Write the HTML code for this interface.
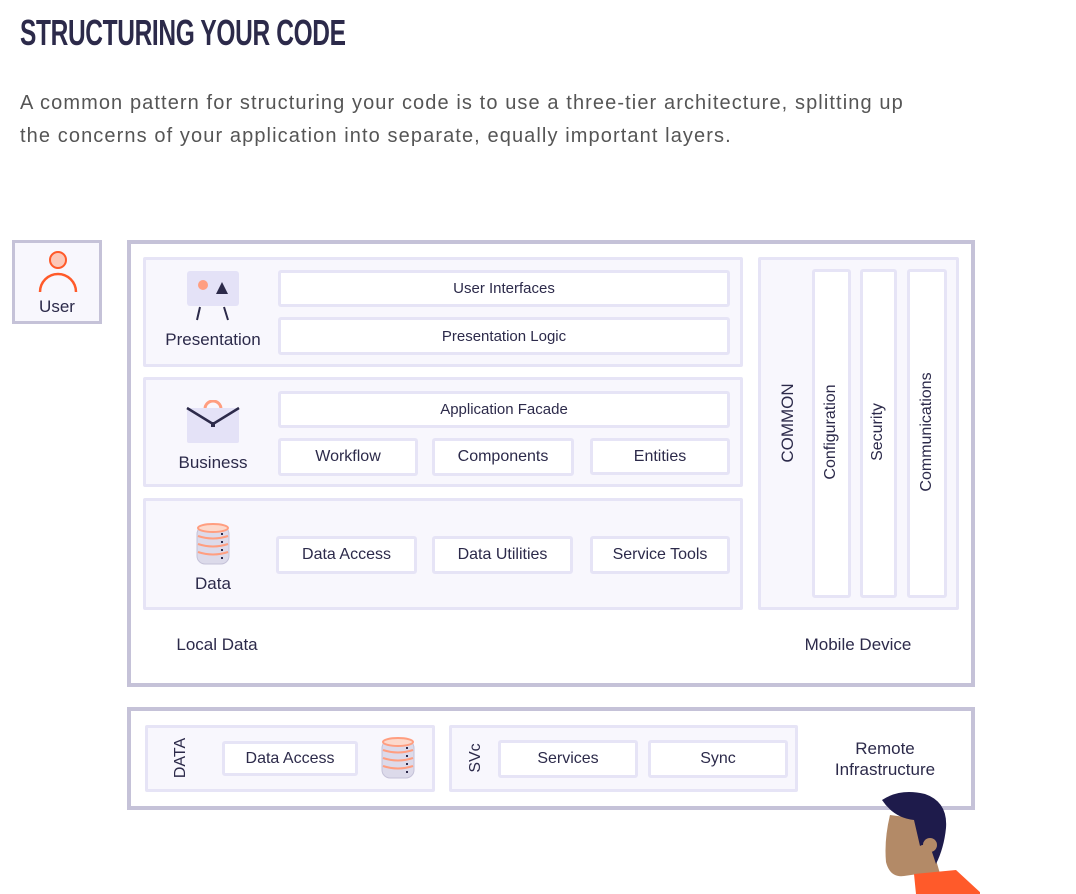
<!DOCTYPE html>
<html><head><meta charset="utf-8"><style>
*{box-sizing:border-box;margin:0;padding:0}
body{width:1076px;height:894px;background:#fff;position:relative;overflow:hidden;font-family:"Liberation Sans",sans-serif;color:#2c2a4a}
.a{position:absolute}
.panel{position:absolute;background:#f8f7fd;border:3px solid #e6e4f6;border-radius:2px}
.box{position:absolute;background:#fff;border:3px solid #e6e4f6;border-radius:3px;display:flex;align-items:center;justify-content:center;font-size:16px;color:#2c2a4a}
.lbl{position:absolute;font-size:17px;text-align:center;color:#2c2a4a}
.v{position:absolute;transform:rotate(-90deg);transform-origin:center;white-space:nowrap;font-size:16px;text-align:center}
</style></head><body>
<div class="a" style="left:20px;top:12px;font-family:'Liberation Sans Narrow','Liberation Sans',sans-serif;font-weight:bold;font-size:36px;letter-spacing:-0.5px;transform:scaleX(0.68);transform-origin:left;color:#2c2a4a;white-space:nowrap">STRUCTURING YOUR CODE</div>
<div class="a" style="left:20px;top:87px;font-size:20px;line-height:33px;color:#555;letter-spacing:1.1px;white-space:nowrap">A common pattern for structuring your code is to use a three-tier architecture, splitting up<br>the concerns of your application into separate, equally important layers.</div>

<div class="a" style="left:12px;top:240px;width:90px;height:84px;border:3px solid #c5c2d8;background:#f8f7fd"></div>
<svg class="a" style="left:36px;top:248px" width="44" height="46"><circle cx="22" cy="12" r="8" fill="#fcc8b8" stroke="#ff5a2a" stroke-width="2"/><path d="M4 44 A18 18 0 0 1 40 44" fill="none" stroke="#ff5a2a" stroke-width="2.5"/></svg>
<div class="lbl" style="left:12px;top:297px;width:90px">User</div>

<div class="a" style="left:127px;top:240px;width:848px;height:447px;border:4px solid #c5c2d8"></div>

<div class="panel" style="left:143px;top:257px;width:600px;height:110px"></div>
<div class="panel" style="left:143px;top:377px;width:600px;height:110px"></div>
<div class="panel" style="left:143px;top:498px;width:600px;height:112px"></div>

<svg class="a" style="left:186px;top:270px" width="54" height="52"><rect x="1" y="1" width="52" height="35" rx="3" fill="#e4e2f7"/><circle cx="17" cy="15" r="5" fill="#ff9e80"/><path d="M30 24 L36 12 L42 24Z" fill="#2c2a4a"/><path d="M14 37 L11 50 M38 37 L42 50" stroke="#2c2a4a" stroke-width="2"/></svg>
<div class="lbl" style="left:143px;top:330px;width:140px">Presentation</div>
<svg class="a" style="left:186px;top:400px" width="54" height="46"><path d="M19 9 A8 8 0 0 1 35 9" fill="none" stroke="#ff9e80" stroke-width="3"/><rect x="1" y="8" width="52" height="35" rx="2" fill="#e4e2f7"/><path d="M1 8 L27 24 L53 8" fill="none" stroke="#2c2a4a" stroke-width="2.5"/><rect x="25" y="22" width="4" height="5" fill="#2c2a4a"/></svg>
<div class="lbl" style="left:143px;top:453px;width:140px">Business</div>
<svg class="a" style="left:195px;top:522px" width="36" height="46"><rect x="2" y="4" width="32" height="38" rx="8" fill="#dcdaea" stroke="#c5c2d8"/><g fill="none" stroke="#ff9e80" stroke-width="2"><ellipse cx="18" cy="6" rx="15" ry="4" fill="#fcd9cc"/><path d="M3 14 Q18 19 33 14 M3 22 Q18 27 33 22 M3 30 Q18 35 33 30"/></g><g fill="#2c2a4a"><rect x="26" y="11" width="2" height="2"/><rect x="26" y="19" width="2" height="2"/><rect x="26" y="27" width="2" height="2"/><rect x="26" y="35" width="2" height="2"/></g></svg>
<div class="lbl" style="left:143px;top:574px;width:140px">Data</div>

<div class="box" style="left:278px;top:270px;width:452px;height:37px;font-size:15px">User Interfaces</div>
<div class="box" style="left:278px;top:317px;width:452px;height:38px;font-size:15px">Presentation Logic</div>
<div class="box" style="left:278px;top:391px;width:452px;height:37px;font-size:15px">Application Facade</div>
<div class="box" style="left:278px;top:438px;width:140px;height:38px">Workflow</div>
<div class="box" style="left:432px;top:438px;width:142px;height:38px">Components</div>
<div class="box" style="left:590px;top:438px;width:140px;height:37px">Entities</div>
<div class="box" style="left:276px;top:536px;width:141px;height:38px">Data Access</div>
<div class="box" style="left:432px;top:536px;width:141px;height:38px">Data Utilities</div>
<div class="box" style="left:590px;top:536px;width:140px;height:38px">Service Tools</div>

<div class="panel" style="left:758px;top:257px;width:201px;height:353px"></div>
<div class="box" style="left:812px;top:269px;width:39px;height:329px"></div>
<div class="box" style="left:860px;top:269px;width:37px;height:329px"></div>
<div class="box" style="left:907px;top:269px;width:40px;height:329px"></div>
<div class="v" style="left:728px;top:413px;width:120px;font-size:17px">COMMON</div>
<div class="v" style="left:771px;top:423px;width:120px">Configuration</div>
<div class="v" style="left:818px;top:423px;width:120px">Security</div>
<div class="v" style="left:867px;top:423px;width:120px">Communications</div>

<div class="lbl" style="left:150px;top:635px;width:134px">Local Data</div>
<div class="lbl" style="left:778px;top:635px;width:160px">Mobile Device</div>

<div class="a" style="left:127px;top:707px;width:848px;height:103px;border:4px solid #c5c2d8"></div>
<div class="panel" style="left:145px;top:725px;width:290px;height:67px"></div>
<div class="panel" style="left:449px;top:725px;width:349px;height:67px"></div>
<div class="v" style="left:151px;top:749px;width:60px;font-size:16px">DATA</div>
<div class="v" style="left:446px;top:749px;width:60px;font-size:16px">SVc</div>
<div class="box" style="left:222px;top:741px;width:136px;height:35px">Data Access</div>
<div class="box" style="left:498px;top:740px;width:140px;height:38px">Services</div>
<div class="box" style="left:648px;top:740px;width:140px;height:38px">Sync</div>
<svg class="a" style="left:380px;top:736px" width="36" height="46"><rect x="2" y="4" width="32" height="38" rx="8" fill="#dcdaea" stroke="#c5c2d8"/><g fill="none" stroke="#ff9e80" stroke-width="2"><ellipse cx="18" cy="6" rx="15" ry="4" fill="#fcd9cc"/><path d="M3 14 Q18 19 33 14 M3 22 Q18 27 33 22 M3 30 Q18 35 33 30"/></g><g fill="#2c2a4a"><rect x="26" y="11" width="2" height="2"/><rect x="26" y="19" width="2" height="2"/><rect x="26" y="27" width="2" height="2"/><rect x="26" y="35" width="2" height="2"/></g></svg>
<div class="lbl" style="left:810px;top:738px;width:150px;line-height:21px">Remote<br>Infrastructure</div>

<svg class="a" style="left:870px;top:790px" width="110" height="104"><path d="M20 25 Q14 50 16 72 Q20 88 34 86 L48 84 L52 104 L76 104 L66 70 L58 30 Z" fill="#b38a67"/><path d="M12 10 Q30 -2 55 4 Q78 12 76 38 Q74 58 66 74 L62 62 Q56 52 50 56 L44 30 Q24 28 12 10Z" fill="#1e1b4b"/><circle cx="60" cy="55" r="7" fill="#b38a67"/><path d="M44 84 L86 80 L112 104 L46 104Z" fill="#ff5a2a"/></svg>
</body></html>
